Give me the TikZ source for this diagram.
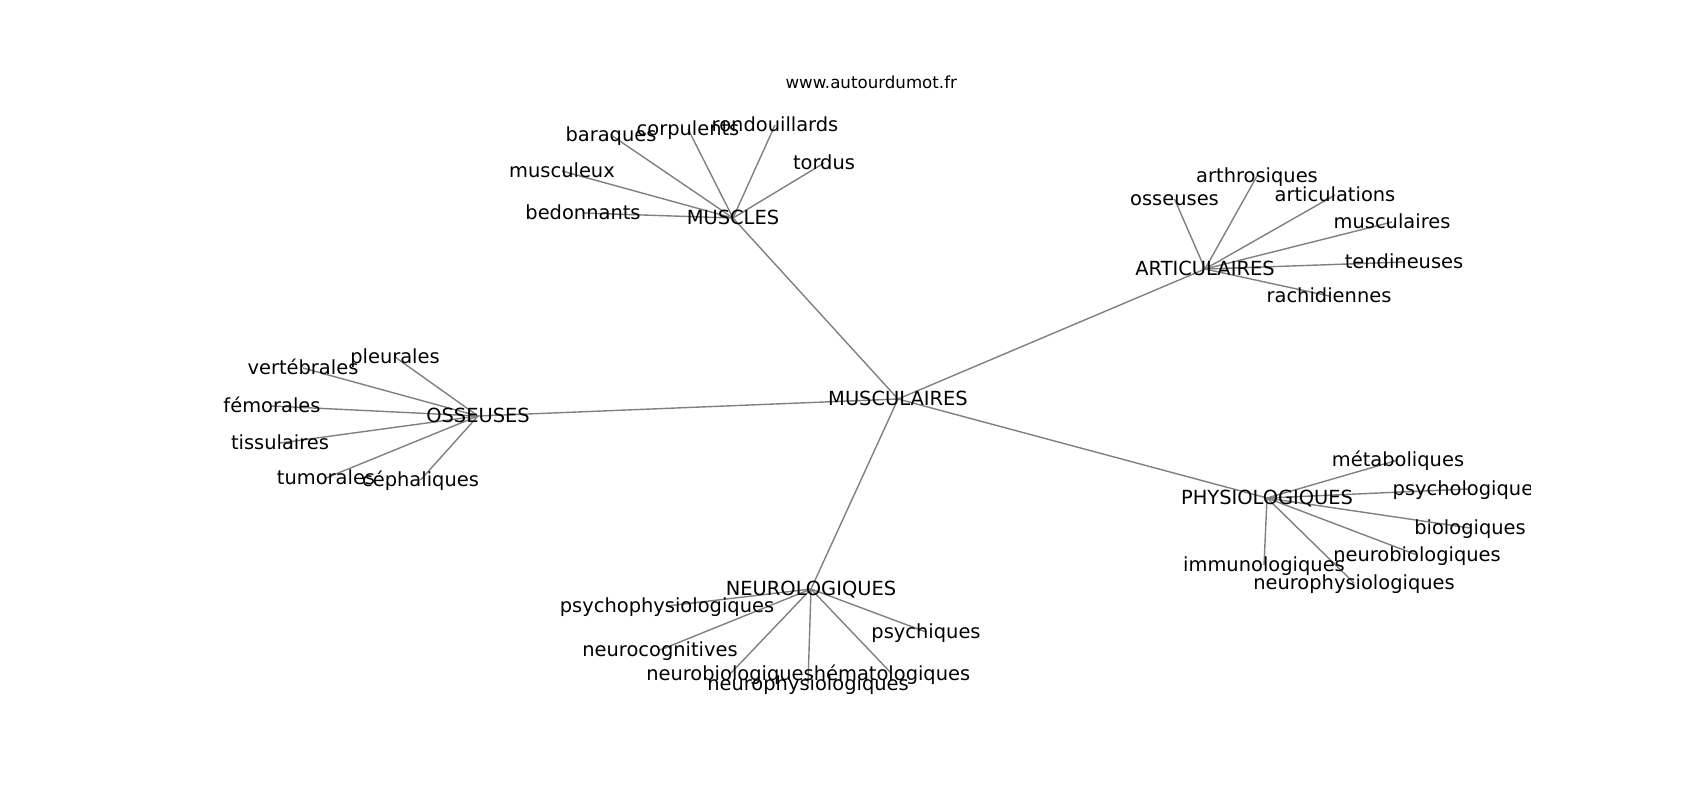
\documentclass[tikz,border=0pt]{standalone}
\usepackage{fontspec}
\setmainfont{DejaVu Sans}
\usepackage{tikz}
\usetikzlibrary{
  backgrounds
}
\newcommand{\wordsize}{\fontsize{9.72}{11.7}\selectfont}
\newcommand{\sitesize}{\fontsize{8.33}{10}\selectfont}
\tikzset{
  word/.style={font=\wordsize, inner sep=0pt, text height=8.9pt, text depth=2.3pt},
  link/.style={draw=black!50, line width=0.7pt}
}

\begin{document}
\begin{tikzpicture}[x=0.5pt, y=-0.5pt]
  \useasboundingbox (0,0) rectangle (1700,800);

  % Title
  \node[font=\sitesize, anchor=base, inner sep=0pt] (site) at (871.25, 88.5) {www.autourdumot.fr};

  % Centre and hubs
  \node[word] (musc) at (898, 399) {MUSCULAIRES};
  \node[word] (muscles) at (733, 218) {MUSCLES};
  \node[word] (articul) at (1205, 269) {ARTICULAIRES};
  \node[word] (osseuses) at (478, 416) {OSSEUSES};
  \node[word] (physio) at (1267, 498) {PHYSIOLOGIQUES};
  \node[word] (neuro) at (811, 589) {NEUROLOGIQUES};

  % MUSCLES
  \node[word] (m-baraques) at (611, 135) {baraques};
  \node[word] (m-corpulents) at (688, 129) {corpulents};
  \node[word] (m-rondouillards) at (775, 125) {rondouillards};
  \node[word] (m-musculeux) at (562, 171) {musculeux};
  \node[word] (m-tordus) at (824, 163) {tordus};
  \node[word] (m-bedonnants) at (583, 213) {bedonnants};

  % ARTICULAIRES
  \node[word] (a-osseuses) at (1174.5, 199) {osseuses};
  \node[word] (a-arthrosiques) at (1257, 176) {arthrosiques};
  \node[word] (a-articulations) at (1335, 195) {articulations};
  \node[word] (a-musculaires) at (1392, 222) {musculaires};
  \node[word] (a-tendineuses) at (1404, 262) {tendineuses};
  \node[word] (a-rachidiennes) at (1329, 296) {rachidiennes};

  % OSSEUSES
  \node[word] (o-pleurales) at (395, 357) {pleurales};
  \node[word] (o-vertebrales) at (303, 368) {vertébrales};
  \node[word] (o-femorales) at (272, 406) {fémorales};
  \node[word] (o-tissulaires) at (280, 443) {tissulaires};
  \node[word] (o-tumorales) at (326, 478) {tumorales};
  \node[word] (o-cephaliques) at (420.5, 480) {céphaliques};

  % PHYSIOLOGIQUES
  \node[word] (p-metaboliques) at (1398, 460) {métaboliques};
  \begin{scope}
    \clip (0,0) rectangle (1530,800);
    \node[word] (p-psychologiques) at (1468, 489) {psychologiques};
  \end{scope}
  \node[word] (p-biologiques) at (1470, 528) {biologiques};
  \node[word] (p-neurobio) at (1417, 555) {neurobiologiques};
  \node[word] (p-immuno) at (1264, 565) {immunologiques};
  \node[word] (p-neurophysio) at (1354, 583) {neurophysiologiques};

  % NEUROLOGIQUES
  \node[word] (n-psychophysio) at (667, 606) {psychophysiologiques};
  \node[word] (n-neurocog) at (660, 650) {neurocognitives};
  \node[word] (n-neurobio) at (730, 674) {neurobiologiques};
  \node[word] (n-neurophysio) at (808, 684) {neurophysiologiques};
  \node[word] (n-hemato) at (892, 674) {hématologiques};
  \node[word] (n-psychiques) at (926, 632) {psychiques};

  % Edges, under the words
  \begin{scope}[on background layer]
    \fill[white] (0,0) rectangle (1700,800);
    \foreach \hub in {muscles, articul, osseuses, physio, neuro}
      \draw[link] (musc.center) -- (\hub.center);
    \foreach \leaf in {baraques, corpulents, rondouillards, musculeux, tordus, bedonnants}
      \draw[link] (muscles.center) -- (m-\leaf.center);
    \foreach \leaf in {osseuses, arthrosiques, articulations, musculaires, tendineuses, rachidiennes}
      \draw[link] (articul.center) -- (a-\leaf.center);
    \foreach \leaf in {pleurales, vertebrales, femorales, tissulaires, tumorales, cephaliques}
      \draw[link] (osseuses.center) -- (o-\leaf.center);
    \foreach \leaf in {metaboliques, psychologiques, biologiques, neurobio, immuno, neurophysio}
      \draw[link] (physio.center) -- (p-\leaf.center);
    \foreach \leaf in {psychophysio, neurocog, neurobio, neurophysio, hemato, psychiques}
      \draw[link] (neuro.center) -- (n-\leaf.center);
  \end{scope}
\end{tikzpicture}
\end{document}
